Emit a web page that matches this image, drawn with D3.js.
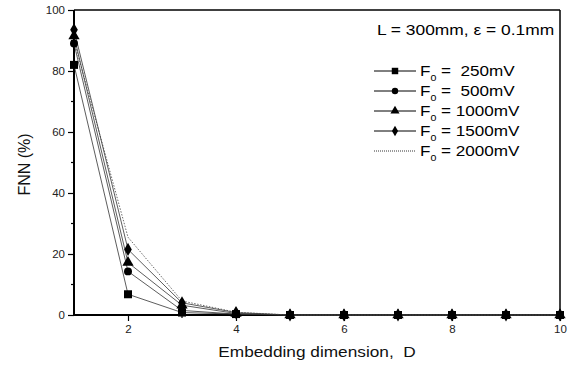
<!DOCTYPE html>
<html><head><meta charset="utf-8">
<script src="https://cdn.jsdelivr.net/npm/d3@7"></script>
<style>body{margin:0;background:#fff}svg{display:block}text{font-family:"Liberation Sans",Arial,sans-serif}</style>
</head><body>
<script>
const dims = [1,2,3,4,5,6,7,8,9,10];
const f250  = [82, 6.8, 0.8, 0.3, 0, 0, 0, 0, 0, 0];
const f500  = [89, 14.3, 1.5, 0.3, 0, 0, 0, 0, 0, 0];
const f1000 = [91.5, 17.2, 3.2, 0.5, 0, 0, 0, 0, 0, 0];
const f1500 = [93.5, 21.5, 4.0, 0.8, 0, 0, 0, 0, 0, 0];
const f2000 = [90, 25.5, 4.6, 0.9, 0, 0, 0, 0, 0, 0];
const seriesLabels = ["250mV", "500mV", "1000mV", "1500mV", "2000mV"];
const seriesValues = [f250, f500, f1000, f1500, f2000];
const seriesSymbols = ["square", "circle", "triangle", "diamond", null];
const xTicks = [2,4,6,8,10];
const yTicks = [0,20,40,60,80,100];

const W=573,H=369, L=74, R=560, T=10, B=315;
const svg = d3.select("body").append("svg").attr("width",W).attr("height",H);
const x = d3.scaleLinear().domain([1,10]).range([L,R]);
const y = d3.scaleLinear().domain([0,100]).range([B,T]);

svg.append("line").attr("x1",L).attr("x2",R).attr("y1",T).attr("y2",T).attr("stroke","#000").attr("stroke-width",1.5);
svg.append("line").attr("x1",R).attr("x2",R).attr("y1",T).attr("y2",B).attr("stroke","#000").attr("stroke-width",1.5);

svg.append("g").selectAll("line").data(d3.range(10,100,20)).join("line")
  .attr("x1",L-3).attr("x2",L).attr("y1",d=>y(d)).attr("y2",d=>y(d)).attr("stroke","#000").attr("stroke-width",1.2);
svg.append("g").selectAll("line").data([3,5,7,9]).join("line")
  .attr("y1",B).attr("y2",B+3).attr("x1",d=>x(d)).attr("x2",d=>x(d)).attr("stroke","#000").attr("stroke-width",1.2);

const yAxis = svg.append("g").attr("transform",`translate(${L},0)`)
  .call(d3.axisLeft(y).tickValues(yTicks).tickSize(6).tickPadding(3).tickFormat(d3.format("d")));
const xAxis = svg.append("g").attr("transform",`translate(0,${B})`)
  .call(d3.axisBottom(x).tickValues(xTicks).tickSize(6).tickPadding(4).tickFormat(d3.format("d")));
[xAxis,yAxis].forEach(a=>{
  a.select(".domain").attr("stroke-width",2);
  a.selectAll(".tick line").attr("stroke-width",1.2);
  a.selectAll("text").style("font-size","11.5px").attr("fill","#222").style("font-family","Liberation Sans, Arial, sans-serif");
});
xAxis.select(".domain").attr("d",`M${L},0H${R}`);
yAxis.select(".domain").attr("d",`M0,${B}V${T}`);

const symMap = {square:d3.symbolSquare, circle:d3.symbolCircle, triangle:d3.symbolTriangle, diamond:d3.symbolDiamond};
const symSize = {square:64, circle:50, triangle:55, diamond:50};
const line = d3.line().x((d,i)=>x(dims[i])).y(d=>y(d));

const g = svg.append("g");
seriesValues.forEach((vals,si)=>{
  const sym = seriesSymbols[si];
  g.append("path").attr("d",line(vals)).attr("fill","none").attr("stroke", sym? "#333":"#444")
   .attr("stroke-width", 0.8).attr("stroke-dasharray", sym? null : "1.5,1.5");
});
seriesValues.forEach((vals,si)=>{
  const sym = seriesSymbols[si];
  if(!sym) return;
  g.selectAll(null).data(vals).join("path")
   .attr("transform",(d,i)=>`translate(${x(dims[i])},${y(d)})`)
   .attr("d", d3.symbol().type(symMap[sym]).size(symSize[sym])).attr("fill","#000");
});

svg.append("text").attr("transform",`translate(30,${(T+B)/2+2}) rotate(-90)`).attr("text-anchor","middle")
  .style("font-size","16px").attr("fill","#111").text("FNN (%)");
svg.append("g").attr("transform",`translate(${(L+R)/2},357) scale(1.15,1)`).append("text")
  .attr("text-anchor","middle").style("font-size","15px").attr("fill","#111").attr("xml:space","preserve").text("Embedding dimension,  D");

svg.append("g").attr("transform","translate(377,35) scale(1.2,1)").append("text")
  .style("font-size","14.5px").attr("fill","#000").text("L = 300mm, \u03b5 = 0.1mm");

const lg = svg.append("g");
seriesLabels.forEach((lab,i)=>{
  const yy = 71 + i*20;
  const sym = seriesSymbols[i];
  lg.append("line").attr("x1",374).attr("x2",416).attr("y1",yy).attr("y2",yy)
    .attr("stroke","#000").attr("stroke-width",sym?1:0.8).attr("stroke-dasharray",sym?null:"1,1");
  if(sym) lg.append("path").attr("transform",`translate(395,${yy})`)
    .attr("d",d3.symbol().type(symMap[sym]).size(symSize[sym]*0.65)).attr("fill","#000");
  const t = lg.append("g").attr("transform",`translate(420,${yy+5}) scale(1.18,1)`).append("text")
    .style("font-size","14.5px").attr("fill","#000").attr("xml:space","preserve");
  t.append("tspan").text("F");
  t.append("tspan").attr("dy",5).style("font-size","9px").text("0");
  t.append("tspan").attr("dy",-5).text(lab.length===5 ? " =  "+lab : " = "+lab);
});
</script>
</body></html>
